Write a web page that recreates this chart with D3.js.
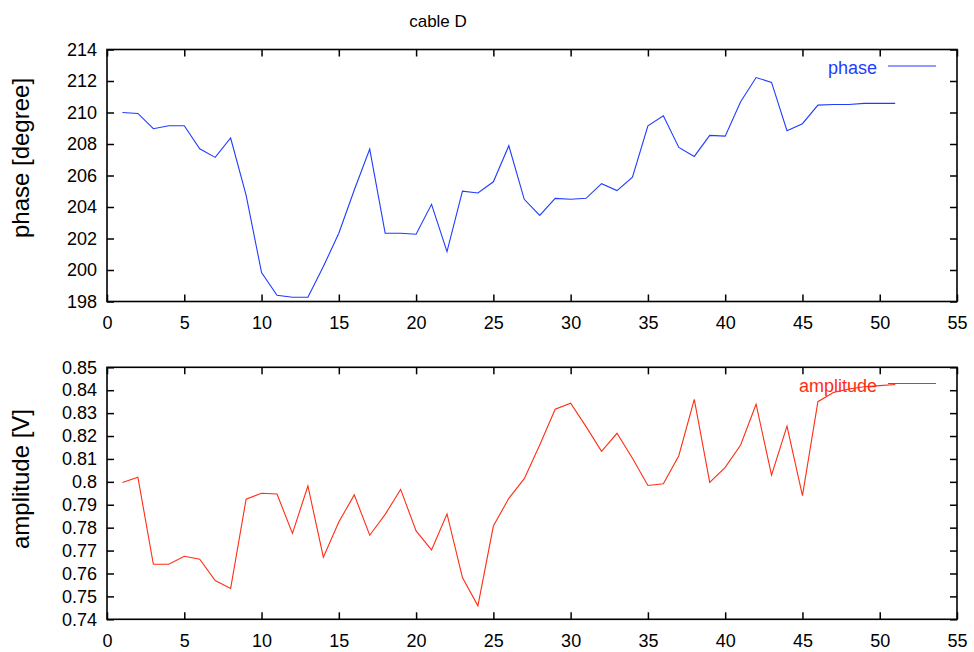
<!DOCTYPE html>
<html>
<head>
<meta charset="utf-8">
<script src="https://cdn.jsdelivr.net/npm/d3@7"></script>
<style>
  body { margin: 0; background: #fff; }
  svg text { font-family: "Liberation Sans", Arial, Helvetica, sans-serif; fill: #000; }
</style>
</head>
<body>
<svg id="chart" width="974" height="652"></svg>
<script>
// sample index, 1..51
const samples = d3.range(1, 52);

const phase = [
  210.0, 209.94, 208.97, 209.16, 209.16, 207.7, 207.15, 208.38, 204.76, 199.84,
  198.4, 198.27, 198.27, 200.22, 202.33, 205.08, 207.68, 202.33, 202.33, 202.27,
  204.17, 201.17, 205.01, 204.89, 205.6, 207.89, 204.49, 203.47, 204.55, 204.49,
  204.55, 205.48, 205.04, 205.9, 209.16, 209.79, 207.78, 207.21, 208.55, 208.5,
  210.68, 212.22, 211.91, 208.84, 209.29, 210.47, 210.51, 210.51, 210.58, 210.58,
  210.58
];

const amplitude = [
  0.7997, 0.802, 0.764, 0.764, 0.7675, 0.7662, 0.7569, 0.7535, 0.7924, 0.795,
  0.7947, 0.7775, 0.7982, 0.7671, 0.7825, 0.7943, 0.7767, 0.7858, 0.7967, 0.7786,
  0.7703, 0.786, 0.7582, 0.7459, 0.7807, 0.7928, 0.8014, 0.8161, 0.8317, 0.8343,
  0.8241, 0.8133, 0.8212, 0.8103, 0.7984, 0.7992, 0.8114, 0.836, 0.7998, 0.8063,
  0.8161, 0.8339, 0.8029, 0.8243, 0.794, 0.835, 0.839, 0.8405, 0.8415, 0.842,
  0.8425
];

const xTicks = d3.range(0, 56, 5);
const phaseTicks = d3.range(198, 215, 2);
const ampTicks = d3.range(74, 86).map(d => d / 100);

const svg = d3.select('#chart');

const x = d3.scaleLinear().domain([0, 55]).range([107, 957]);

// draw one framed panel, gnuplot style (ticks inward on every side)
function panel(opts) {
  const { y, ticks, fmt, data, color, ylabel, labelY, legendY } = opts;
  const [y0, y1] = y.range();
  const g = svg.append('g');

  g.append('g')
    .attr('transform', `translate(0,${y0})`)
    .call(d3.axisBottom(x).tickValues(xTicks).tickSize(-7).tickPadding(15));
  g.append('g')
    .attr('transform', `translate(0,${y1})`)
    .call(d3.axisTop(x).tickValues(xTicks).tickSize(-7).tickFormat(''));
  g.append('g')
    .attr('transform', `translate(${x.range()[0]},0)`)
    .call(d3.axisLeft(y).tickValues(ticks).tickSize(-7).tickPadding(10).tickFormat(fmt));
  g.append('g')
    .attr('transform', `translate(${x.range()[1]},0)`)
    .call(d3.axisRight(y).tickValues(ticks).tickSize(-7).tickFormat(''));

  g.selectAll('.domain').remove();
  g.selectAll('.tick line').attr('stroke', '#000').attr('stroke-width', 1.5);
  g.selectAll('.tick text').attr('font-size', 18).attr('font-family', null);

  // line
  const line = d3.line()
    .x((d, i) => x(samples[i]))
    .y(d => y(d));
  g.append('path')
    .datum(data)
    .attr('fill', 'none')
    .attr('stroke', color)
    .attr('stroke-width', 1.1)
    .attr('d', line);

  // frame
  g.append('rect')
    .attr('x', x.range()[0])
    .attr('y', y1)
    .attr('width', x.range()[1] - x.range()[0])
    .attr('height', y0 - y1)
    .attr('fill', 'none')
    .attr('stroke', '#000')
    .attr('stroke-width', 1.6);

  // y label
  g.append('text')
    .attr('transform', `translate(29,${labelY}) rotate(-90)`)
    .attr('text-anchor', 'middle')
    .attr('font-size', 24)
    .text(ylabel);

  // legend
  g.append('text')
    .attr('x', 877)
    .attr('y', legendY + 8)
    .attr('text-anchor', 'end')
    .attr('font-size', 18)
    .style('fill', color)
    .text(opts.key);
  g.append('line')
    .attr('x1', 888).attr('x2', 936)
    .attr('y1', legendY).attr('y2', legendY)
    .attr('stroke', color)
    .attr('stroke-width', 1.1);
}

panel({
  y: d3.scaleLinear().domain([198, 214]).range([301.5, 49.5]),
  ticks: phaseTicks,
  fmt: d3.format('d'),
  data: phase,
  color: '#1f3cff',
  ylabel: 'phase [degree]',
  labelY: 158,
  legendY: 66,
  key: 'phase'
});

panel({
  y: d3.scaleLinear().domain([0.74, 0.85]).range([619.3, 367.3]),
  ticks: ampTicks,
  fmt: d3.format('.2~f'),
  data: amplitude,
  color: '#ff2d14',
  ylabel: 'amplitude [V]',
  labelY: 479,
  legendY: 383.5,
  key: 'amplitude'
});

// title
svg.append('text')
  .attr('x', 438)
  .attr('y', 27)
  .attr('text-anchor', 'middle')
  .attr('font-size', 17)
  .text('cable D');
</script>
</body>
</html>
